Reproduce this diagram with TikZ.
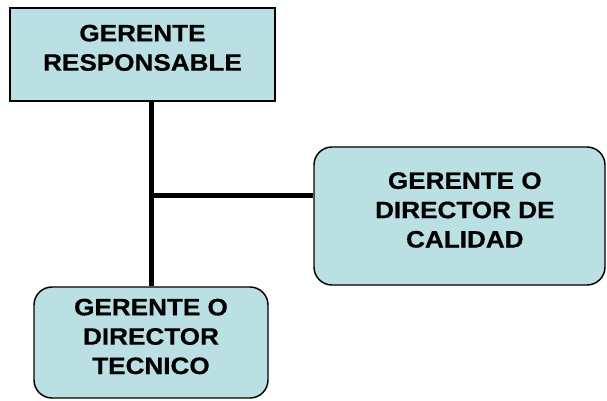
\documentclass[tikz,border=0pt]{standalone}
\usepackage{fontspec}
\setmainfont{Liberation Sans}
\newfontfamily\orgfont[FakeStretch=1.1, BoldFeatures={FakeBold=0.6}]{Liberation Sans}
\definecolor{orgfill}{HTML}{BAE0E4}

\tikzset{
  orgbox/.style={draw=black, line width=1.1pt, fill=orgfill, inner sep=0pt},
  orgtext/.style={align=center, inner sep=0pt,
    font=\orgfont\bfseries\fontsize{17.8}{22}\selectfont},
  orglink/.style={draw=black, line width=3.75pt}
}

\begin{document}
\begin{tikzpicture}[x=0.75pt, y=-0.75pt]
  \useasboundingbox (0,0) rectangle (607,400);
  % boxes
  \node[orgbox, minimum width=198.75pt, minimum height=69.75pt] (resp) at (142.5,54.5) {};
  \node[orgbox, rounded corners=13.5pt, minimum width=218.25pt, minimum height=103.5pt] (calidad) at (459.5,216) {};
  \node[orgbox, rounded corners=13.5pt, minimum width=175.5pt, minimum height=83.25pt] (tecnico) at (151,342.5) {};
  % labels
  \node[orgtext] (resp-txt) at ([yshift=5pt]resp.center) {GERENTE\\RESPONSABLE};
  \node[orgtext] (calidad-txt) at ([xshift=4pt, yshift=4.5pt]calidad.center) {GERENTE O\\DIRECTOR DE\\CALIDAD};
  \node[orgtext] (tecnico-txt) at ([yshift=4.5pt]tecnico.center) {GERENTE O\\DIRECTOR\\TECNICO};
  % links
  \coordinate (junc) at (151.5,195);
  \draw[orglink] (tecnico.north -| junc) -- (resp.south -| junc);
  \draw[orglink] (junc) -- (junc -| calidad.west);
\end{tikzpicture}
\end{document}
